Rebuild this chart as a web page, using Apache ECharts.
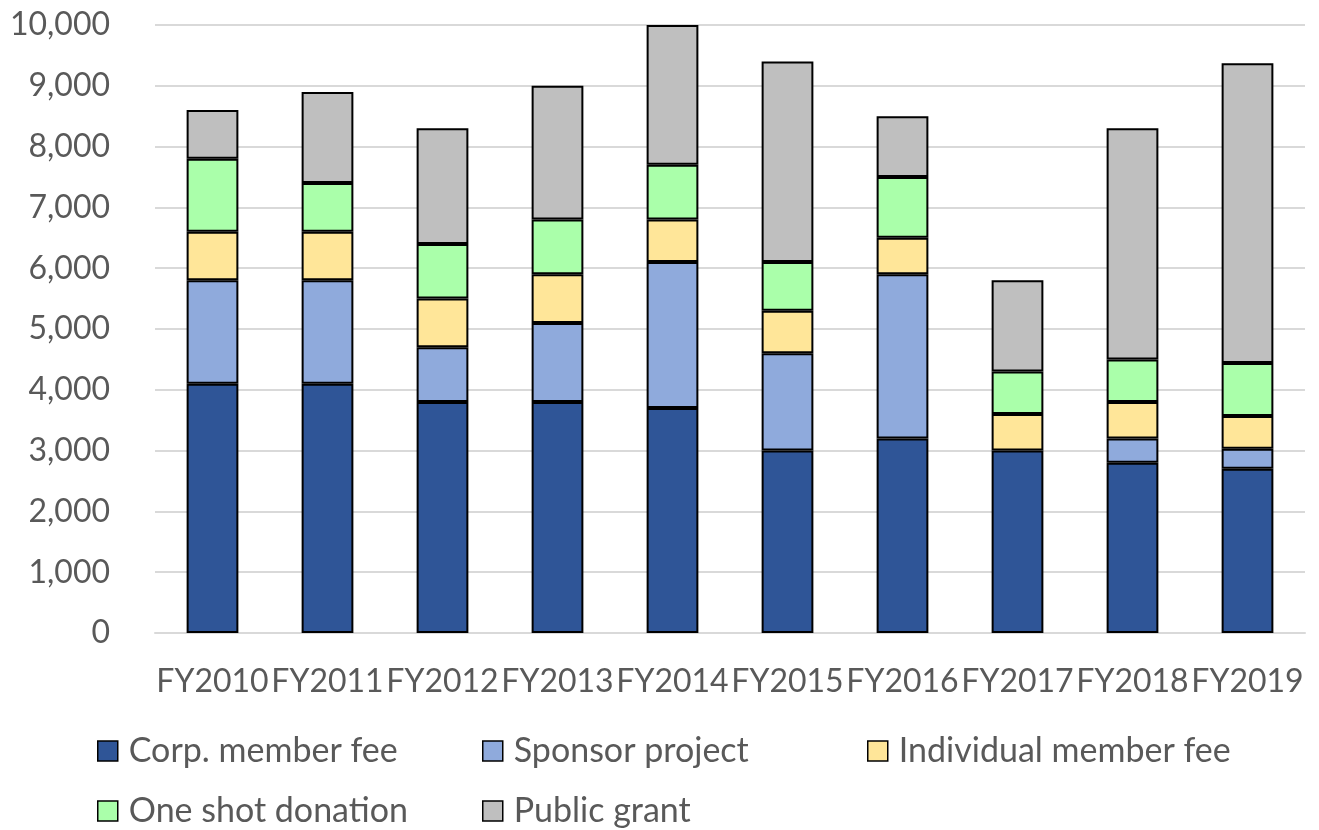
<!DOCTYPE html>
<html>
<head>
<meta charset="utf-8">
<script src="https://cdn.jsdelivr.net/npm/echarts@6/dist/echarts.min.js"></script>
<style>
html,body{margin:0;padding:0;background:#fff;}
#chart{width:1319px;height:830px;}
</style>
</head>
<body>
<div id="chart"></div>
<script>
const categories = ['FY2010','FY2011','FY2012','FY2013','FY2014','FY2015','FY2016','FY2017','FY2018','FY2019'];
const corpMemberFee = [4100, 4100, 3800, 3800, 3700, 3000, 3200, 3000, 2800, 2700];
const sponsorProject = [1700, 1700, 900, 1300, 2400, 1600, 2700, -30, 400, 330];
const individualMemberFee = [800, 800, 800, 800, 700, 700, 600, 600, 600, 540];
const oneShotDonation = [1200, 800, 900, 900, 900, 800, 1000, 700, 700, 870];
const publicGrant = [800, 1500, 1900, 2200, 2300, 3300, 1000, 1500, 3800, 4930];
const yTicks = {min: 0, max: 10000, interval: 1000};

const FONT = 'Lato, "Open Sans", sans-serif';
const seriesDefs = [
  ['Corp. member fee', corpMemberFee, '#2F5597'],
  ['Sponsor project', sponsorProject, '#8FAADC'],
  ['Individual member fee', individualMemberFee, '#FFE699'],
  ['One shot donation', oneShotDonation, '#AAFFAA'],
  ['Public grant', publicGrant, '#BFBFBF']
];
const legendPos = [[97, 734], [482, 734], [867, 734], [97, 794], [482, 794]];

const chart = echarts.init(document.getElementById('chart'), null, {renderer: 'canvas'});
chart.setOption({
  animation: false,
  backgroundColor: '#ffffff',
  grid: {left: 155, right: 14, top: 25, bottom: 197, containLabel: false},
  legend: seriesDefs.map((d, i) => ({
    left: legendPos[i][0], top: legendPos[i][1],
    padding: 0,
    data: [d[0]],
    itemWidth: 20, itemHeight: 20, icon: 'rect',
    textStyle: {fontFamily: FONT, fontSize: 34, color: '#595959', padding: [0,0,0,6]},
    itemStyle: {borderColor: '#000', borderWidth: 1.5}
  })),
  xAxis: {
    type: 'category',
    data: categories,
    axisLine: {show: true, lineStyle: {color: '#D9D9D9', width: 2}},
    axisTick: {show: false},
    axisLabel: {interval: 0, margin: 33, fontFamily: FONT, fontSize: 32, color: '#595959'}
  },
  yAxis: {
    type: 'value',
    min: yTicks.min, max: yTicks.max, interval: yTicks.interval,
    axisLine: {show: false},
    axisTick: {show: false},
    splitLine: {lineStyle: {color: '#D9D9D9', width: 2}},
    axisLabel: {
      margin: 45, fontFamily: FONT, fontSize: 32, color: '#595959',
      formatter: v => v.toLocaleString('en-US')
    }
  },
  series: seriesDefs.map(([name, data, color]) => ({
    name, type: 'bar', stack: 'total', data,
    barWidth: '45%',
    itemStyle: {color, borderColor: '#000', borderWidth: 2},
    emphasis: {disabled: true}
  }))
});
</script>
</body>
</html>
